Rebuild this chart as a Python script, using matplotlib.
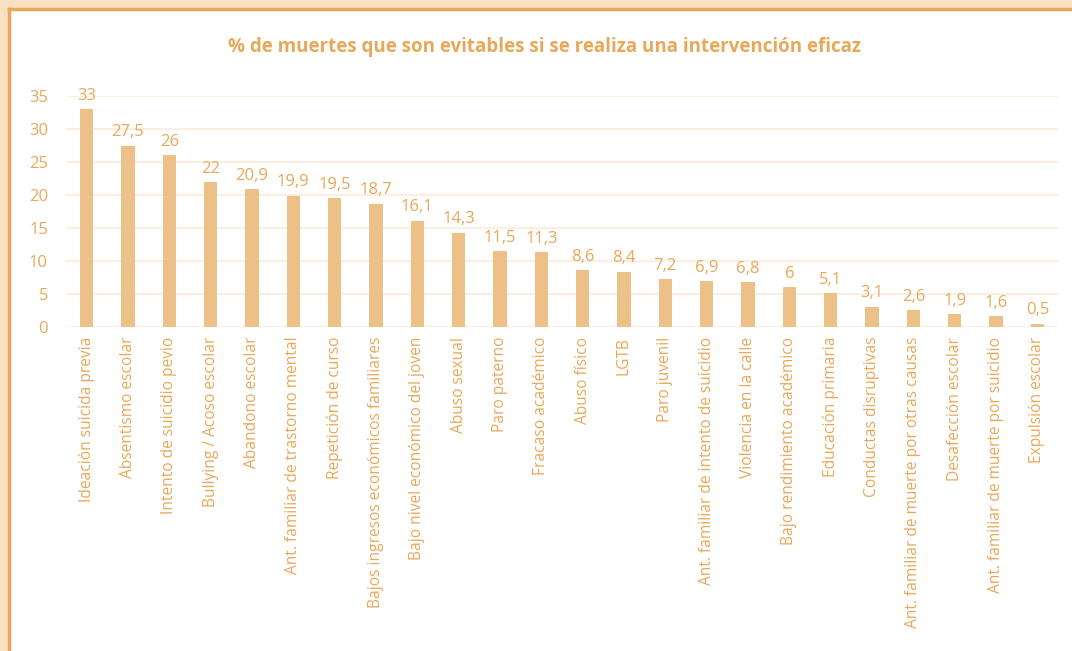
import matplotlib.pyplot as plt
from matplotlib.patches import Rectangle
from matplotlib.lines import Line2D

categorias = [
    "Ideación suicida previa", "Absentismo escolar", "Intento de suicidio pevio",
    "Bullying / Acoso escolar", "Abandono escolar", "Ant. familiar de trastorno mental",
    "Repetición de curso", "Bajos ingresos económicos familiares",
    "Bajo nivel económico del joven", "Abuso sexual", "Paro paterno",
    "Fracaso académico", "Abuso físico", "LGTB", "Paro juvenil",
    "Ant. familiar de intento de suicidio", "Violencia en la calle",
    "Bajo rendimiento académico", "Educación primaria", "Conductas disruptivas",
    "Ant. familiar de muerte por otras causas", "Desafección escolar",
    "Ant. familiar de muerte por suicidio", "Expulsión escolar",
]
valores = [33, 27.5, 26, 22, 20.9, 19.9, 19.5, 18.7, 16.1, 14.3, 11.5, 11.3,
           8.6, 8.4, 7.2, 6.9, 6.8, 6, 5.1, 3.1, 2.6, 1.9, 1.6, 0.5]
ticks_y = [0, 5, 10, 15, 20, 25, 30, 35]

barra = "#edc088"
texto = "#e8a85a"
rejilla = "#fcefe2"
borde = "#e9a65a"

plt.rcParams['font.family'] = ['Open Sans', 'DejaVu Sans']

fig = plt.figure(figsize=(10.72, 6.51), dpi=100)
fig.patch.set_facecolor("#f8e0c3")
# panel blanco con borde naranja arriba y a la izquierda
x0, y1 = 9 / 1072, 1 - 9 / 651
fig.patches.append(Rectangle((x0, -0.1), 1.2, y1 + 0.1, transform=fig.transFigure,
                             facecolor="white", edgecolor="none", zorder=-5))
fig.lines.append(Line2D([x0, 1.1], [y1, y1], transform=fig.transFigure,
                        color=borde, linewidth=2.5, zorder=-4))
fig.lines.append(Line2D([x0, x0], [-0.1, y1], transform=fig.transFigure,
                        color=borde, linewidth=2.5, zorder=-4))

ax = fig.add_axes([66 / 1072, 1 - 327 / 651, (1058 - 66) / 1072, (327 - 96) / 651])
ax.set_zorder(2)
ax.set_facecolor("none")
x = list(range(len(valores)))
ax.bar(x, valores, width=0.32, color=barra, zorder=3)

for xi, v in zip(x, valores):
    etiqueta = f"{v:g}".replace(".", ",")
    ax.text(xi, v + 0.8, etiqueta, ha="center", va="bottom", color=texto,
            fontsize=12, fontweight="medium", clip_on=False)

ax.set_xlim(-0.5, 23.5)
ax.set_ylim(0, 35)
ax.set_yticks(ticks_y)
ax.set_yticklabels([str(t) for t in ticks_y], color=texto, fontsize=12,
                   fontweight="medium")
ax.yaxis.grid(True, color=rejilla, linewidth=1.5, zorder=0)
ax.set_xticks(x)
ax.set_xticklabels(categorias, rotation=90, color=texto, fontsize=11.2,
                   fontweight="medium", va="top", ha="center")
ax.tick_params(axis="both", length=0)
ax.tick_params(axis="y", pad=13)
ax.tick_params(axis="x", pad=7)
for s in ax.spines.values():
    s.set_visible(False)
ax.axhline(0, color=rejilla, linewidth=1.5, zorder=1)

fig.text(545 / 1072, 1 - 47 / 651,
         "% de muertes que son evitables si se realiza una intervención eficaz",
         ha="center", va="center", color=texto, fontsize=13.5, fontweight="bold")

fig.savefig("out.png", dpi=100, facecolor=fig.get_facecolor())
